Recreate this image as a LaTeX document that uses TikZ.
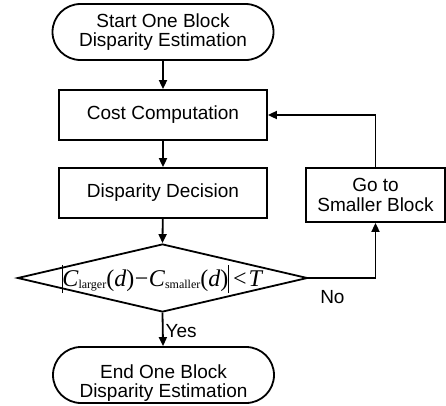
\documentclass[tikz,border=0pt]{standalone}
\usepackage{fontspec}
\setmainfont{Liberation Sans}
\newfontfamily\tnr{Liberation Serif}
\usetikzlibrary{shapes.geometric,arrows.meta,calc}

% pieces of the threshold test
\newcommand{\subtxt}[1]{\raisebox{-2pt}{\fontsize{12}{12}\selectfont #1}}
\newcommand{\absbar}{\rule[-7pt]{0.7pt}{28pt}}
\newcommand{\thresholdtest}{{\tnr\fontsize{24}{24}\selectfont
  \absbar\textit{C}\subtxt{larger}(\textit{d})\hspace{0.5pt}−\hspace{0.5pt}\textit{C}\subtxt{smaller}(\textit{d})\absbar\hspace{4pt}<\hspace{2pt}\textit{T}}}

\tikzset{
  flow/.style={line width=1.8pt},
  arrow/.style={flow, -{Triangle[length=9pt,width=8pt]}},
  txt/.style={font=\fontsize{19}{19.5}\selectfont, align=center},
  terminal/.style={flow, draw, rectangle, rounded corners=28pt,
    minimum width=221pt, minimum height=56pt, inner sep=0pt},
  process/.style={flow, draw, rectangle, txt, inner sep=0pt},
  decision/.style={flow, draw, diamond, inner sep=0pt,
    minimum width=290pt, minimum height=68pt},
}

\begin{document}
\begin{tikzpicture}[x=1pt,y=-1pt]
\useasboundingbox (0,0) rectangle (446,405);

\node[terminal, txt] (start) at (163,32) {Start One Block\\Disparity Estimation};
\node[process, minimum width=208pt, minimum height=50pt] (cost) at (163,115) {Cost Computation};
\node[process, minimum width=208pt, minimum height=50pt] (decide) at (163,193) {Disparity Decision};
\node[decision] (test) at (162.5,278)
  {\smash{\makebox[0pt]{\raisebox{-8pt}{\thresholdtest}}}};
\node[process, minimum width=139pt, minimum height=54pt, font=\fontsize{19}{20}\selectfont] (smaller) at (375.5,195) {Go to\\Smaller Block};
\node[terminal] (end) at (163.5,375) {};
\node[txt] (endtext) at ($(end.center)+(0,8)$) {End One Block\\Disparity Estimation};

\draw[arrow] (start) -- (cost);
\draw[arrow] (cost) -- (decide);
\draw[arrow] (decide) -- (test.north);
\draw[arrow] (test.south) -- node[txt, right, inner sep=2pt, pos=0.55] (yes) {Yes} (end);
\draw[arrow] (test.east) -| (smaller.south);
\draw[arrow] (smaller.north) |- (cost.east);
\node[txt, anchor=north] (no) at ($(test.east)+(24,9)$) {No};
\end{tikzpicture}
\end{document}
